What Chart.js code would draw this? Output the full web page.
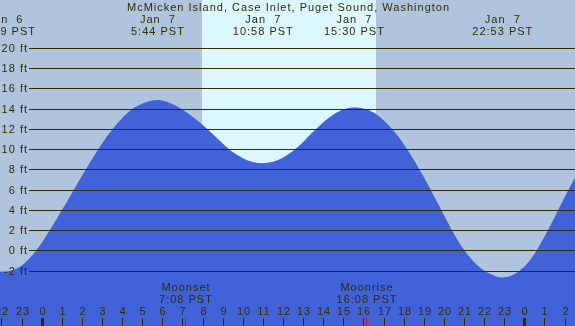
<!DOCTYPE html>
<html>
<head>
<meta charset="utf-8">
<script src="https://cdn.jsdelivr.net/npm/chart.js@4.4.1/dist/chart.umd.min.js"></script>
<style>
  html, body { margin: 0; padding: 0; background: #b0c4de; overflow: hidden; }
  #wrap { width: 575px; height: 326px; position: relative; }
</style>
</head>
<body>
<div id="wrap"><canvas id="tide-chart"></canvas></div>
<script>
// Tide heights (ft), hours relative to Jan 7 00:00 PST
const hours = [-2.1, -1.5, -1, -0.5, 0, 0.5, 1, 1.5, 2, 2.5, 3, 3.5, 4, 4.5, 5, 5.5, 5.73,
  6, 6.5, 7, 7.5, 8, 8.5, 9, 9.5, 10, 10.5, 10.97, 11.5, 12, 12.5, 13, 13.5, 14, 14.5,
  15, 15.5, 16, 16.5, 17, 17.5, 18, 18.5, 19, 19.5, 20, 20.5, 21, 21.5, 22, 22.5, 22.88,
  23.5, 24, 24.5, 25, 25.5, 26, 26.6];
const heights = [-2.12, -2.0, -1.5, -0.55, 0.75, 2.3, 3.95, 5.65, 7.35, 9.0, 10.55, 11.9, 13.05, 13.95, 14.5, 14.8, 14.85,
  14.8, 14.45, 13.9, 13.2, 12.4, 11.5, 10.55, 9.7, 9.1, 8.72, 8.6, 8.75, 9.15, 9.8, 10.7, 11.7, 12.65, 13.4,
  13.9, 14.1, 14.0, 13.6, 12.85, 11.8, 10.5, 8.95, 7.25, 5.4, 3.5, 1.65, 0.05, -1.15, -2.0, -2.5, -2.67,
  -2.35, -1.6, -0.35, 1.35, 3.25, 5.25, 7.5];

// High / low tide labels along the top
const extremeHours = [-1.85, 5.73, 10.97, 15.5, 22.88];
const extremeDays = ['Jan  6', 'Jan  7', 'Jan  7', 'Jan  7', 'Jan  7'];
const extremeTimes = ['22:09 PST', '5:44 PST', '10:58 PST', '15:30 PST', '22:53 PST'];

// Moon events along the bottom
const moonHours = [7.13, 16.13];
const moonNames = ['Moonset', 'Moonrise'];
const moonTimes = ['7:08 PST', '16:08 PST'];

// Daylight band
const sunrise = 7.97;
const sunset = 16.62;

// Axis ticks
const hourTicks = [-2, -1, 0, 1, 2, 3, 4, 5, 6, 7, 8, 9, 10, 11, 12, 13, 14, 15, 16, 17, 18, 19, 20, 21, 22, 23, 24, 25, 26];
const hourLabels = ['22', '23', '0', '1', '2', '3', '4', '5', '6', '7', '8', '9', '10', '11', '12', '13',
  '14', '15', '16', '17', '18', '19', '20', '21', '22', '23', '0', '1', '2'];
const feetTicks = [20, 18, 16, 14, 12, 10, 8, 6, 4, 2, 0, -2];
const feetLabels = ['20 ft', '18 ft', '16 ft', '14 ft', '12 ft', '10 ft', '8 ft', '6 ft', '4 ft', '2 ft', '0 ft', '-2 ft'];

const title = 'McMicken Island, Case Inlet, Puget Sound, Washington';

const INK = '#2e2e00';
const FONT = '11px "Liberation Sans", Arial, sans-serif';

function setText(ctx, align) {
  ctx.font = FONT;
  ctx.fillStyle = INK;
  ctx.textAlign = align;
  ctx.textBaseline = 'middle';
  ctx.letterSpacing = '1px';
}

const tideDecor = {
  id: 'tideDecor',
  beforeDraw(chart) {
    const { ctx, width, height } = chart;
    const xs = chart.scales.x;
    ctx.save();
    ctx.fillStyle = '#b0c4de';
    ctx.fillRect(0, 0, width, height);
    const x0 = Math.round(xs.getPixelForValue(sunrise));
    const x1 = Math.round(xs.getPixelForValue(sunset));
    ctx.fillStyle = '#ddf7ff';
    ctx.fillRect(x0, 0, x1 - x0, height);
    ctx.restore();
  },
  afterDatasetsDraw(chart) {
    const { ctx, width, height } = chart;
    const xs = chart.scales.x;
    const ys = chart.scales.y;
    ctx.save();

    // horizontal grid + ft labels
    feetTicks.forEach((v, i) => {
      const y = Math.round(ys.getPixelForValue(v)) + 0.5;
      ctx.strokeStyle = INK;
      ctx.lineWidth = 1;
      ctx.beginPath();
      ctx.moveTo(29, y);
      ctx.lineTo(width, y);
      ctx.stroke();
      setText(ctx, 'right');
      ctx.fillText(feetLabels[i], 28, y);
    });

    // hour ticks + labels
    hourTicks.forEach((h, i) => {
      const x = Math.round(xs.getPixelForValue(h));
      const midnight = hourLabels[i] === '0';
      ctx.fillStyle = INK;
      if (midnight) {
        ctx.fillRect(x - 1, 318, 3, height - 318);
      } else {
        ctx.fillRect(x, 318, 1, height - 318);
      }
      setText(ctx, 'center');
      ctx.fillText(hourLabels[i], x + 1, 312);
    });

    // moon events
    moonHours.forEach((h, i) => {
      const x = Math.round(xs.getPixelForValue(h));
      ctx.fillStyle = '#ff0000';
      ctx.fillRect(x, 318, 1, height - 318);
      setText(ctx, 'center');
      ctx.fillText(moonNames[i], x + 1, 287.5);
      ctx.fillText(moonTimes[i], x + 1, 299.5);
    });

    // high / low labels
    extremeHours.forEach((h, i) => {
      const x = xs.getPixelForValue(h);
      setText(ctx, 'center');
      ctx.fillText(extremeDays[i], x + 1, 19.5);
      ctx.fillText(extremeTimes[i], x + 1, 31.5);
    });

    // title
    setText(ctx, 'center');
    ctx.fillText(title, width / 2 + 1, 7.5);

    ctx.restore();
  },
};

new Chart(document.getElementById('tide-chart'), {
  type: 'line',
  data: {
    datasets: [{
      label: 'Tide',
      data: hours.map((h, i) => ({ x: h, y: heights[i] })),
      borderWidth: 0,
      borderColor: 'rgba(0,0,0,0)',
      backgroundColor: '#4162d8',
      fill: 'start',
      pointRadius: 0,
      cubicInterpolationMode: 'monotone',
    }],
  },
  options: {
    responsive: true,
    maintainAspectRatio: false,
    animation: false,
    layout: { padding: 0 },
    scales: {
      x: { type: 'linear', display: false, min: -2.074, max: 26.52 },
      y: { type: 'linear', display: false, min: -7.47, max: 24.72 },
    },
    plugins: {
      legend: { display: false },
      tooltip: { enabled: false },
    },
  },
  plugins: [tideDecor],
});
</script>
</body>
</html>
